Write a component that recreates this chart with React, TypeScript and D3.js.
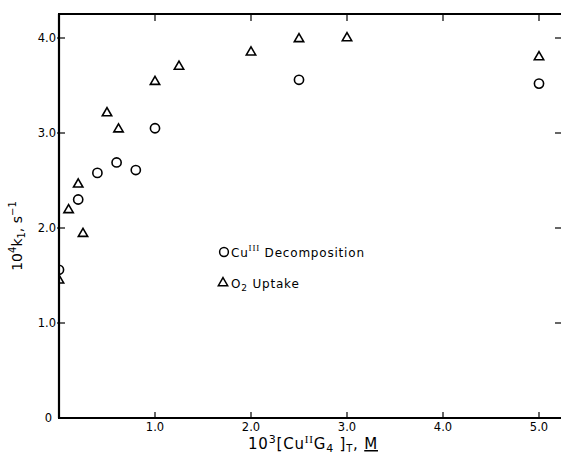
import React, { useEffect, useRef } from "react";
import * as d3 from "d3";

const W = 561;
const H = 457;

// Cu(III) decomposition (circles)
const decompX = [0, 0.2, 0.4, 0.6, 0.8, 1.0, 2.5, 5.0];
const decompY = [1.56, 2.3, 2.58, 2.69, 2.61, 3.05, 3.56, 3.52];
// O2 uptake (triangles)
const uptakeX = [0, 0.1, 0.2, 0.25, 0.5, 0.62, 1.0, 1.25, 2.0, 2.5, 3.0, 5.0];
const uptakeY = [1.45, 2.19, 2.46, 1.94, 3.21, 3.04, 3.54, 3.7, 3.85, 3.99, 4.0, 3.8];

const xTicks = [1, 2, 3, 4, 5];
const xTickLabels = ["1.0", "2.0", "3.0", "4.0", "5.0"];
const yTicks = [0, 1, 2, 3, 4];
const yTickLabels = ["0", "1.0", "2.0", "3.0", "4.0"];

export default function App() {
  const ref = useRef<SVGSVGElement | null>(null);

  useEffect(() => {
    const svg = d3.select(ref.current);
    svg.selectAll("*").remove();
    const font = "'DejaVu Sans', 'Liberation Sans', sans-serif";

    const x = d3.scaleLinear().domain([0, 5]).range([59, 539]);
    const y = d3.scaleLinear().domain([0, 4]).range([418, 38]);
    const left = x(0);
    const right = 561;
    const top = 14;
    const bottom = y(0);

    svg
      .append("defs")
      .append("clipPath")
      .attr("id", "plotclip")
      .append("rect")
      .attr("x", left)
      .attr("y", top)
      .attr("width", right - left)
      .attr("height", bottom - top);

    const axes = svg.append("g").attr("stroke", "#000").attr("fill", "none");
    axes.append("line").attr("x1", left).attr("x2", left).attr("y1", top).attr("y2", bottom).attr("stroke-width", 2.2);
    axes.append("line").attr("x1", left - 1).attr("x2", right).attr("y1", bottom).attr("y2", bottom).attr("stroke-width", 2.2);
    axes.append("line").attr("x1", left - 1).attr("x2", right).attr("y1", top).attr("y2", top).attr("stroke-width", 2);

    xTicks.forEach((t) => {
      axes.append("line").attr("x1", x(t)).attr("x2", x(t)).attr("y1", bottom).attr("y2", bottom - 6).attr("stroke-width", 1.2);
      axes.append("line").attr("x1", x(t)).attr("x2", x(t)).attr("y1", top).attr("y2", top + 7).attr("stroke-width", 1.2);
    });
    yTicks.forEach((t) => {
      if (t === 0) return;
      axes.append("line").attr("x1", left - 2).attr("x2", left + 6).attr("y1", y(t)).attr("y2", y(t)).attr("stroke-width", 1.2);
      axes.append("line").attr("x1", right - 6).attr("x2", right).attr("y1", y(t)).attr("y2", y(t)).attr("stroke-width", 1.2);
    });

    const labels = svg.append("g").attr("font-family", font).attr("font-size", 11.5).attr("fill", "#000");
    xTicks.forEach((t, i) => {
      labels.append("text").attr("x", x(t)).attr("y", bottom + 12.5).attr("text-anchor", "middle").text(xTickLabels[i]);
    });
    yTicks.forEach((t, i) => {
      labels
        .append("text")
        .attr("x", left - (t === 0 ? 7 : 3))
        .attr("y", y(t) + 4.2)
        .attr("text-anchor", "end")
        .text(yTickLabels[i]);
    });

    const plot = svg.append("g").attr("clip-path", "url(#plotclip)");
    plot
      .selectAll("circle.d")
      .data(decompX.map((d, i) => [d, decompY[i]]))
      .join("circle")
      .attr("class", "d")
      .attr("cx", (d) => x(d[0]))
      .attr("cy", (d) => y(d[1]))
      .attr("r", 4.6)
      .attr("fill", "none")
      .attr("stroke", "#000")
      .attr("stroke-width", 1.6);

    const tri = d3.symbol().type(d3.symbolTriangle).size(38);
    plot
      .selectAll("path.u")
      .data(uptakeX.map((d, i) => [d, uptakeY[i]]))
      .join("path")
      .attr("class", "u")
      .attr("transform", (d) => `translate(${x(d[0])},${y(d[1])})`)
      .attr("d", tri() as string)
      .attr("fill", "none")
      .attr("stroke", "#000")
      .attr("stroke-width", 1.6);

    // legend
    const lg = svg
      .append("g")
      .attr("font-family", font)
      .attr("font-size", 12)
      .attr("letter-spacing", 0.8)
      .attr("fill", "#000");
    lg.append("circle").attr("cx", 224).attr("cy", 252).attr("r", 4.4).attr("fill", "none").attr("stroke", "#000").attr("stroke-width", 1.5);
    const t1 = lg.append("text").attr("x", 231).attr("y", 256.5);
    t1.append("tspan").text("Cu");
    t1.append("tspan").attr("dy", -6).attr("font-size", 9).attr("font-family", "'Liberation Serif', serif").text("III");
    t1.append("tspan").attr("dy", 6).text(" Decomposition");

    lg.append("path")
      .attr("transform", "translate(223,283)")
      .attr("d", tri() as string)
      .attr("fill", "none")
      .attr("stroke", "#000")
      .attr("stroke-width", 1.5);
    const t2 = lg.append("text").attr("x", 231).attr("y", 287.5);
    t2.append("tspan").text("O");
    t2.append("tspan").attr("dy", 3.5).attr("font-size", 9).text("2");
    t2.append("tspan").attr("dy", -3.5).text(" Uptake");

    // x axis title
    const xt = svg
      .append("text")
      .attr("font-family", font)
      .attr("font-size", 15)
      .attr("letter-spacing", 0.8)
      .attr("x", 313)
      .attr("y", 449)
      .attr("text-anchor", "middle");
    xt.append("tspan").text("10");
    xt.append("tspan").attr("dy", -6).attr("font-size", 11).text("3");
    xt.append("tspan").attr("dy", 6).text("[Cu");
    xt.append("tspan").attr("dy", -6).attr("font-size", 11).attr("font-family", "'Liberation Serif', serif").text("II");
    xt.append("tspan").attr("dy", 6).text("G");
    xt.append("tspan").attr("dy", 3).attr("font-size", 11).text("4");
    xt.append("tspan").attr("dy", -3).text(" ]");
    xt.append("tspan").attr("dy", 3).attr("font-size", 10).text("T");
    xt.append("tspan").attr("dy", -3).text(", ");
    xt.append("tspan").attr("text-decoration", "underline").text("M");

    // y axis title
    const yt = svg
      .append("text")
      .attr("font-family", font)
      .attr("font-size", 14)
      .attr("transform", "translate(22,236) rotate(-90)")
      .attr("text-anchor", "middle");
    yt.append("tspan").text("10");
    yt.append("tspan").attr("dy", -6).attr("font-size", 10).text("4");
    yt.append("tspan").attr("dy", 6).text("k");
    yt.append("tspan").attr("dy", 3).attr("font-size", 10).text("1");
    yt.append("tspan").attr("dy", -3).text(", s");
    yt.append("tspan").attr("dy", -6).attr("font-size", 10).text("−1");
  }, []);

  return (
    <svg
      ref={ref}
      width={W}
      height={H}
      style={{ position: "absolute", left: 0, top: 0, background: "#fff" }}
    />
  );
}
